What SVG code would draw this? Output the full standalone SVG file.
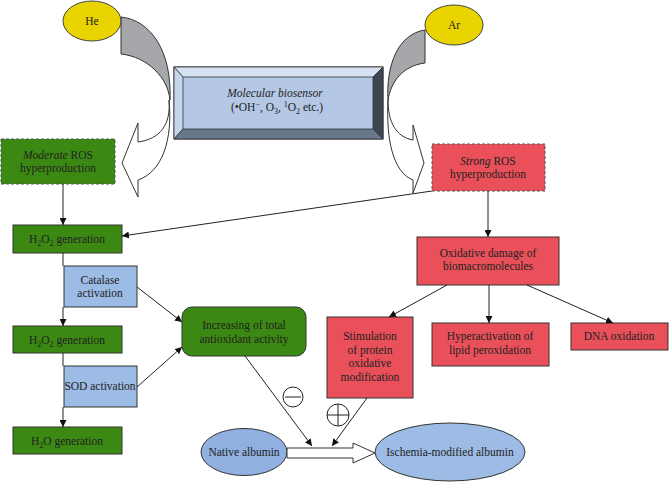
<svg xmlns="http://www.w3.org/2000/svg" width="670" height="483" viewBox="0 0 670 483" font-family="'Liberation Serif', 'DejaVu Serif', serif">
<defs>
<marker id="ah" viewBox="0 0 10 10" refX="10" refY="5" markerWidth="7" markerHeight="7" orient="auto" markerUnits="userSpaceOnUse">
<path d="M0,0 L10,5 L0,10 Z" fill="#111"/>
</marker>
<style>
text{font-family:'Liberation Serif','DejaVu Serif',serif;font-size:11.5px;fill:#222;text-anchor:middle}
.g{fill:#3b8912;stroke:#333;stroke-width:1}
.gd{fill:#3b8912;stroke:#555;stroke-width:1;stroke-dasharray:3,2}
.r{fill:#e9505a;stroke:#333;stroke-width:1}
.rd{fill:#e9505a;stroke:#555;stroke-width:1;stroke-dasharray:3,2}
.b{fill:#9dbce5;stroke:#333;stroke-width:1}
.y{fill:#e9d300;stroke:#444;stroke-width:1}
.ln{stroke:#222;stroke-width:1;fill:none}
.la{stroke:#222;stroke-width:1;fill:none;marker-end:url(#ah)}
.cg{fill:#a6a7ab;stroke:#333;stroke-width:1}
.cw{fill:#fff;stroke:#333;stroke-width:1}
.sub{font-size:8px}
</style>
</defs>

<g id="curved-arrows">
<path class="cg" d="M121,17 C150,20 172,50 170,100 C168,78 148,57 121,54 Z"/>
<path class="cw" d="M169,100 C171,125 160,139 138,142 L138,123 L122,163 L138,197 L138,180 C162,172 173,140 169,100 Z"/>
<path class="cg" d="M425,30 C398,34 386,65 388,100 C391,82 402,66 425,63 Z"/>
<path class="cw" d="M388,100 C388,122 396,137 413,140 L413,125 L424,163 L413,193 L413,180 C393,172 386,140 388,100 Z"/>
</g>

<g id="he"><ellipse class="y" cx="92" cy="21" rx="29" ry="20"/><text x="92" y="25">He</text></g>
<g id="ar"><ellipse class="y" cx="454" cy="25" rx="29" ry="20"/><text x="454" y="29">Ar</text></g>

<g id="biosensor">
<rect x="174" y="67" width="209" height="72" fill="#b4c8e6" stroke="#333"/>
<polygon points="174,67 383,67 373,77 183,77" fill="#d6e2f3" stroke="#333" stroke-width="0.8"/>
<polygon points="174,67 183,77 183,129 174,139" fill="#c6d6ee" stroke="#333" stroke-width="0.8"/>
<polygon points="383,67 383,139 373,129 373,77" fill="#3d4550" stroke="#333" stroke-width="0.8"/>
<polygon points="174,139 383,139 373,129 183,129" fill="#67778c" stroke="#333" stroke-width="0.8"/>
<text x="275" y="97" font-style="italic">Molecular biosensor</text>
<text x="277" y="111">(•OH<tspan class="sub" dy="-4">−</tspan><tspan dy="4">, O</tspan><tspan class="sub" dy="3">3</tspan><tspan dy="-3">, </tspan><tspan class="sub" dy="-4">1</tspan><tspan dy="4">O</tspan><tspan class="sub" dy="3">2</tspan><tspan dy="-3"> etc.)</tspan></text>
</g>

<g id="moderate"><rect class="gd" x="1" y="139" width="114" height="45"/>
<text x="58" y="159"><tspan font-style="italic">Moderate</tspan> ROS</text><text x="58" y="172">hyperproduction</text></g>

<g id="h2o2a"><rect class="g" x="13" y="225" width="109" height="28"/>
<text x="67" y="243">H<tspan class="sub" dy="3">2</tspan><tspan dy="-3">O</tspan><tspan class="sub" dy="3">2</tspan><tspan dy="-3"> generation</tspan></text></g>

<g id="catalase"><rect class="b" x="64" y="266" width="73" height="41"/>
<text x="100" y="284">Catalase</text><text x="100" y="297">activation</text></g>

<g id="h2o2b"><rect class="g" x="13" y="326" width="109" height="27"/>
<text x="67" y="344">H<tspan class="sub" dy="3">2</tspan><tspan dy="-3">O</tspan><tspan class="sub" dy="3">2</tspan><tspan dy="-3"> generation</tspan></text></g>

<g id="sod"><rect class="b" x="64" y="366" width="73" height="41"/>
<text x="100" y="390">SOD activation</text></g>

<g id="h2o"><rect class="g" x="13" y="427" width="109" height="27"/>
<text x="67" y="445">H<tspan class="sub" dy="3">2</tspan><tspan dy="-3">O generation</tspan></text></g>

<g id="antioxidant"><rect class="g" x="182" y="307" width="124" height="49" rx="10"/>
<text x="244" y="329">Increasing of total</text><text x="244" y="343">antioxidant activity</text></g>

<g id="strong"><rect class="rd" x="432" y="144" width="113" height="47"/>
<text x="488" y="165"><tspan font-style="italic">Strong</tspan> ROS</text><text x="488" y="178">hyperproduction</text></g>

<g id="oxidative"><rect class="r" x="417" y="237" width="142" height="48"/>
<text x="488" y="257">Oxidative damage of</text><text x="488" y="270">biomacromolecules</text></g>

<g id="stimulation"><rect class="r" x="327" y="317" width="86" height="81"/>
<text x="370" y="340">Stimulation</text><text x="370" y="354">of protein</text><text x="370" y="367">oxidative</text><text x="370" y="381">modification</text></g>

<g id="lipid"><rect class="r" x="432" y="323" width="117" height="43"/>
<text x="490" y="340">Hyperactivation of</text><text x="490" y="354">lipid peroxidation</text></g>

<g id="dna"><rect class="r" x="571" y="323" width="97" height="27"/>
<text x="619" y="340">DNA oxidation</text></g>

<g id="native"><ellipse cx="244" cy="452" rx="43" ry="23.5" fill="#8fb0e0" stroke="#333"/>
<text x="244" y="456">Native albumin</text></g>

<g id="ischemia"><ellipse class="b" cx="450" cy="452" rx="75" ry="29"/>
<text x="450" y="456">Ischemia-modified albumin</text></g>

<g id="connectors">
<line class="la" x1="63" y1="184" x2="63" y2="225"/>
<line class="la" x1="432" y1="191" x2="122" y2="236"/>
<line class="ln" x1="63" y1="253" x2="63" y2="266"/>
<line class="la" x1="63" y1="307" x2="63" y2="326"/>
<line class="ln" x1="63" y1="353" x2="63" y2="366"/>
<line class="la" x1="63" y1="407" x2="63" y2="427"/>
<line class="la" x1="137" y1="287" x2="182" y2="322"/>
<line class="la" x1="137" y1="387" x2="182" y2="347"/>
<line class="la" x1="488" y1="191" x2="488" y2="237"/>
<line class="la" x1="447" y1="285" x2="389" y2="317"/>
<line class="la" x1="489" y1="285" x2="489" y2="323"/>
<line class="la" x1="527" y1="285" x2="613" y2="323"/>
<line class="la" x1="245" y1="356" x2="312" y2="446"/>
<line class="la" x1="367" y1="398" x2="332" y2="446"/>
<path class="cw" d="M287,448 L353,448 L353,443 L375,453 L353,463 L353,458 L287,458 Z"/>
<circle cx="293" cy="397" r="10" fill="#fff" stroke="#222"/>
<line class="ln" x1="285" y1="397" x2="301" y2="397"/>
<circle cx="338" cy="415" r="11" fill="#fff" stroke="#222"/>
<line class="ln" x1="327" y1="415" x2="349" y2="415"/>
<line class="ln" x1="338" y1="404" x2="338" y2="426"/>
</g>
</svg>
